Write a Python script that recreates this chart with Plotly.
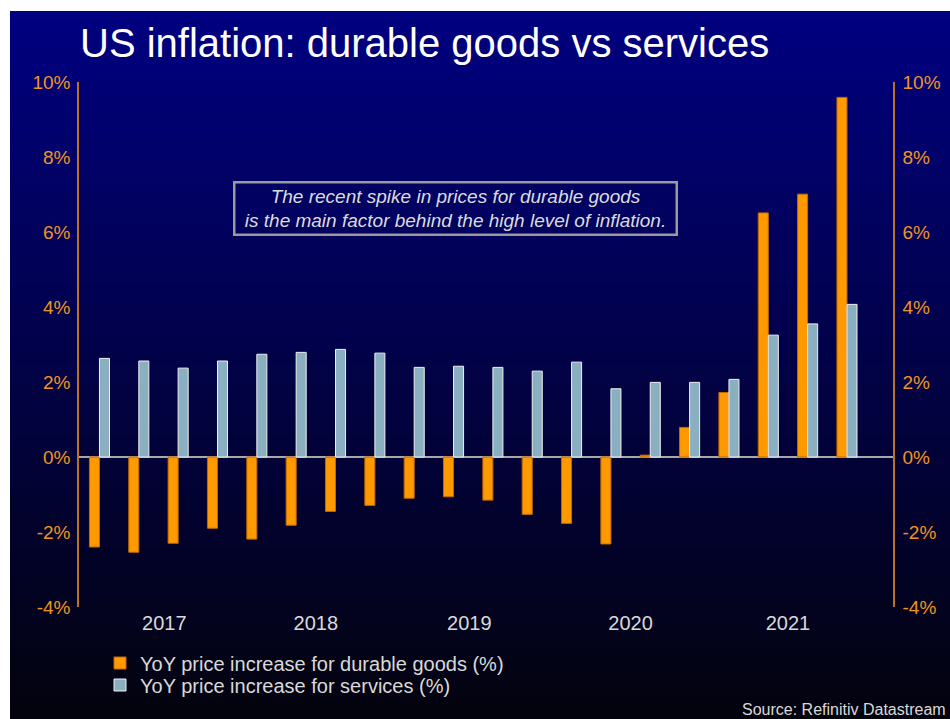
import plotly.graph_objects as go

# ---- data ----
periods = list(range(20))
durable_goods = [-2.40, -2.54, -2.30, -1.90, -2.19, -1.82, -1.45, -1.29, -1.10, -1.06,
                 -1.15, -1.53, -1.77, -2.32, 0.05, 0.79, 1.72, 6.51, 7.01, 9.59]
services = [2.63, 2.56, 2.37, 2.56, 2.74, 2.79, 2.87, 2.77, 2.39, 2.42,
            2.39, 2.29, 2.53, 1.82, 1.99, 1.99, 2.07, 3.25, 3.55, 4.07]
year_labels = ["2017", "2018", "2019", "2020", "2021"]
year_pos = [1.65, 5.5, 9.4, 13.5, 17.5]
y_ticks = [-4, -2, 0, 2, 4, 6, 8, 10]
y_ticktext = ["-4%", "-2%", "0%", "2%", "4%", "6%", "8%", "10%"]

W, H = 950, 719
ML, MR, MT, MB = 79, 57, 82, 112
PW, PH = W - ML - MR, H - MT - MB


def px2x(px):
    return (px - ML) / PW


def px2y(py):
    return (H - MB - py) / PH


ORANGE = "#FF9900"
ORANGE_TXT = "#F09420"
AXIS_COL = "#B87420"
BLUE = "#8AAFC0"
LIGHT = "#D9D9D9"

fig = go.Figure()
fig.add_trace(go.Bar(x=periods, y=durable_goods, name="YoY price increase for durable goods (%)",
                     legend="legend",
                     marker=dict(color=ORANGE, line=dict(color="#C06A00", width=1))))
fig.add_trace(go.Bar(x=periods, y=services, name="YoY price increase for services (%)",
                     legend="legend2",
                     marker=dict(color=BLUE, line=dict(color="#F0F0F0", width=1))))

# gradient background strips
shapes = []
n = 70
top_px, bot_px = 11, 719
c0 = (0, 0, 128)
c1 = (3, 3, 14)
for i in range(n):
    t = i / (n - 1)
    r = round(c0[0] + (c1[0] - c0[0]) * t)
    g = round(c0[1] + (c1[1] - c0[1]) * t)
    b = round(c0[2] + (c1[2] - c0[2]) * t)
    y_a = top_px + (bot_px - top_px) * i / n
    y_b = top_px + (bot_px - top_px) * (i + 1) / n + 0.8
    shapes.append(dict(type="rect", xref="paper", yref="paper", layer="below",
                       x0=px2x(10), x1=px2x(W + 5), y0=px2y(y_b), y1=px2y(y_a),
                       fillcolor=f"rgb({r},{g},{b})", line=dict(width=0)))

legend_common = dict(xref="container", yref="container", xanchor="left", yanchor="middle",
                     bgcolor="rgba(0,0,0,0)", font=dict(size=20, color=LIGHT),
                     itemwidth=30, borderwidth=0)

fig.update_layout(
    width=W, height=H,
    margin=dict(l=ML, r=MR, t=MT, b=MB, autoexpand=False),
    paper_bgcolor="white",
    plot_bgcolor="rgba(0,0,0,0)",
    barmode="group", bargap=0.49, bargroupgap=0,
    font=dict(family="Liberation Sans, Arial, sans-serif", color=LIGHT),
    shapes=shapes,
    showlegend=True,
    legend=dict(x=100 / W, y=1 - 663 / H, **legend_common),
    legend2=dict(x=100 / W, y=1 - 685 / H, **legend_common),
    xaxis=dict(range=[-0.52, 20.17], tickvals=year_pos, ticktext=year_labels,
               showgrid=False, zeroline=False, showline=False, ticks="",
               tickfont=dict(size=20, color=LIGHT), ticklabelstandoff=2, fixedrange=True),
    yaxis=dict(range=[-4, 10], tickvals=y_ticks, ticktext=y_ticktext,
               showgrid=False, zeroline=True, zerolinecolor="#A8A8A8", zerolinewidth=1.5,
               showline=True, linecolor=AXIS_COL, linewidth=1.5, ticks="",
               tickfont=dict(size=19, color=ORANGE_TXT), ticklabelstandoff=3),
    yaxis2=dict(range=[-4, 10], tickvals=y_ticks, ticktext=y_ticktext, overlaying="y",
                side="right", showgrid=False, zeroline=False,
                showline=True, linecolor=AXIS_COL, linewidth=1.5, ticks="",
                tickfont=dict(size=19, color=ORANGE_TXT), ticklabelstandoff=4),
    annotations=[
        dict(text="US inflation: durable goods vs services", xref="paper", yref="paper",
             x=px2x(78), y=px2y(43), xanchor="left", yanchor="middle", showarrow=False,
             font=dict(size=40, color="white")),
        dict(text="<i>The recent spike in prices for durable goods<br>is the main factor behind the high level of inflation.</i>",
             xref="paper", yref="paper", x=px2x(455.5), y=px2y(208.5), xanchor="center",
             yanchor="middle", showarrow=False, align="center", width=436, height=46,
             font=dict(size=19, color="#DCDCDC"), bordercolor="#9A9A9A", borderwidth=2.5,
             borderpad=2),
        dict(text="Source: Refinitiv Datastream", xref="paper", yref="paper",
             x=px2x(948), y=px2y(709), xanchor="right", yanchor="middle", showarrow=False,
             font=dict(size=16, color=LIGHT)),
    ],
)
# dummy invisible trace to activate right axis
fig.add_trace(go.Scatter(x=[periods[0]], y=[0], yaxis="y2", mode="markers",
                         marker=dict(opacity=0), showlegend=False, hoverinfo="skip"))

fig.write_html("out.html")
